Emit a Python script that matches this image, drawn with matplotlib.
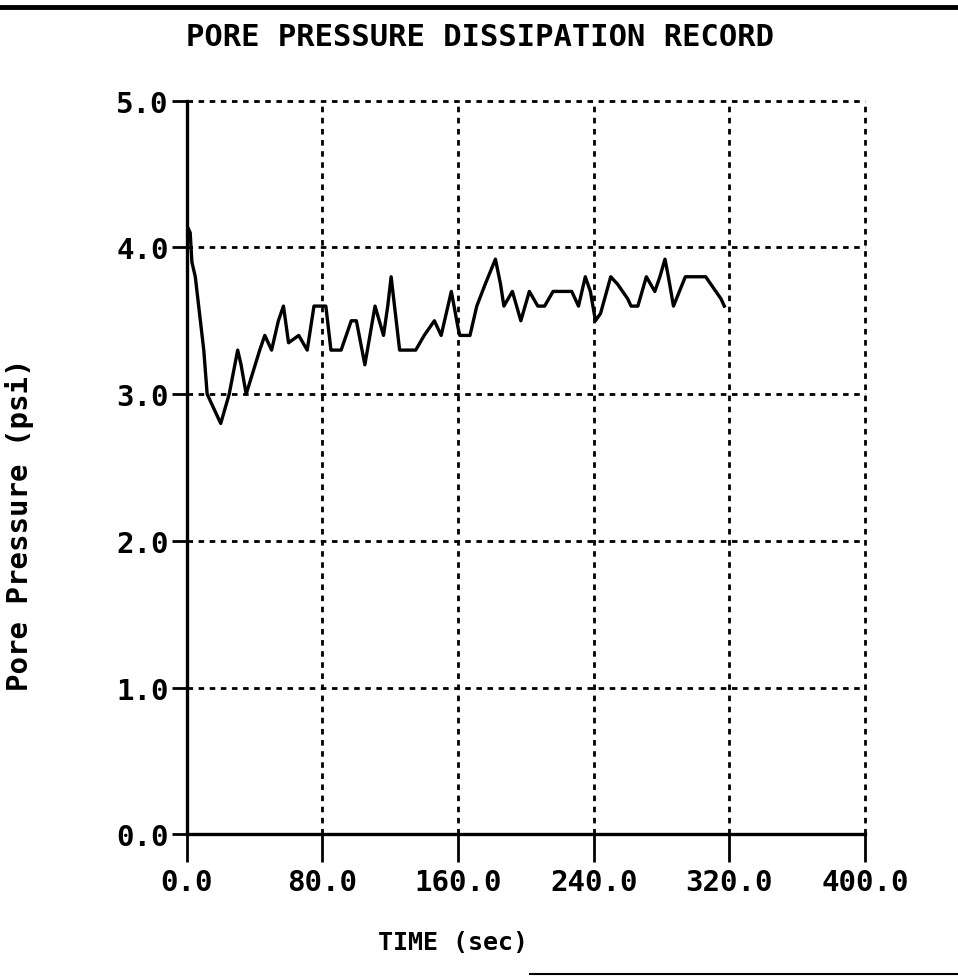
import matplotlib
matplotlib.use("Agg")
import matplotlib.pyplot as plt
from matplotlib.lines import Line2D

# readings off the scanned record (time in sec, pressure in psi)
time_sec = [0, 2, 3, 5, 8, 10, 12, 20, 25, 30,
            32, 35, 43, 46, 50, 54, 57, 60, 66, 71,
            75, 82, 85, 91, 97, 100, 105, 111, 116, 118.5,
            120.5, 122.5, 125.5, 135, 140, 146, 150, 156, 160, 161,
            167, 171, 176, 182, 185, 187, 192, 197, 202, 207,
            211, 216, 227, 231, 235, 238, 241, 244, 250, 254,
            260, 262, 266, 271, 276, 279, 282, 284, 287, 294,
            297, 306, 309, 315, 317]
pressure_psi = [4.15, 4.1, 3.9, 3.8, 3.5, 3.3, 3.0, 2.8, 3.0, 3.3,
                3.2, 3.0, 3.3, 3.4, 3.3, 3.5, 3.6, 3.35, 3.4, 3.3,
                3.6, 3.6, 3.3, 3.3, 3.5, 3.5, 3.2, 3.6, 3.4, 3.6,
                3.8, 3.6, 3.3, 3.3, 3.4, 3.5, 3.4, 3.7, 3.45, 3.4,
                3.4, 3.6, 3.75, 3.92, 3.75, 3.6, 3.7, 3.5, 3.7, 3.6,
                3.6, 3.7, 3.7, 3.6, 3.8, 3.7, 3.5, 3.55, 3.8, 3.75,
                3.65, 3.6, 3.6, 3.8, 3.7, 3.8, 3.92, 3.8, 3.6, 3.8,
                3.8, 3.8, 3.75, 3.65, 3.6]

x_ticks = [0, 80, 160, 240, 320, 400]
y_ticks = [0, 1, 2, 3, 4, 5]

mono = "DejaVu Sans Mono"

fig = plt.figure(figsize=(9.58, 9.78), dpi=100)
ax = fig.add_axes([0.195, 0.146, 0.708, 0.750])

ax.plot(time_sec, pressure_psi, color="black", lw=2.4)

ax.set_xlim(0, 400)
ax.set_ylim(0, 5)
ax.set_xticks(x_ticks)
ax.set_yticks(y_ticks)
ax.set_xticklabels([f"{v:.1f}" for v in x_ticks], fontfamily=mono,
                   fontweight="bold", fontsize=21)
ax.set_yticklabels([f"{v:.1f}" for v in y_ticks], fontfamily=mono,
                   fontweight="bold", fontsize=21)
ax.tick_params(axis="x", direction="out", length=20, width=2, pad=4)
ax.tick_params(axis="y", direction="out", length=11, width=2, pad=2)

for side in ["top", "right"]:
    ax.spines[side].set_visible(False)
for side in ["left", "bottom"]:
    ax.spines[side].set_linewidth(2.4)

ax.grid(True, color="black", lw=2, linestyle=(0, (2, 2)))
for gl in ax.get_xgridlines() + ax.get_ygridlines():
    gl.set_clip_on(False)

fig.text(0.501, 1 - 38 / 978, "PORE PRESSURE DISSIPATION RECORD",
         ha="center", va="center", fontfamily=mono, fontweight="bold",
         fontsize=22)
fig.text(453 / 958, 1 - 943 / 978, "TIME (sec)", ha="center", va="center",
         fontfamily=mono, fontweight="bold", fontsize=18)
fig.text(20 / 958, 1 - 525 / 978, "Pore Pressure (psi)", ha="center",
         va="center", rotation=90, fontfamily=mono, fontweight="bold",
         fontsize=21)

# scan edge lines
fig.add_artist(Line2D([0, 1], [1 - 8 / 978, 1 - 8 / 978], color="black",
                      lw=3.5, transform=fig.transFigure))
fig.add_artist(Line2D([530 / 958, 1], [1 - 975 / 978, 1 - 975 / 978],
                      color="black", lw=1.5, transform=fig.transFigure))

fig.savefig("out.png", dpi=100)
